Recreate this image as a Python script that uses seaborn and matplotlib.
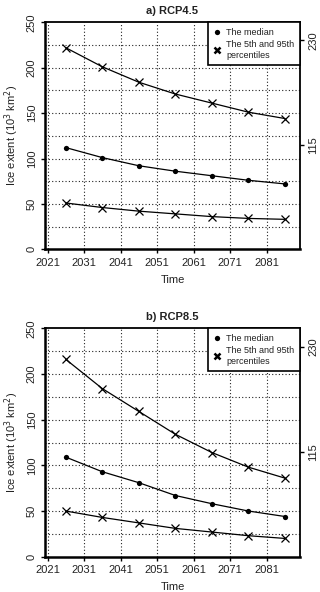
import matplotlib
matplotlib.use("Agg")
import matplotlib.pyplot as plt
from matplotlib.lines import Line2D
import seaborn as sns
import pandas as pd

# values (10^3 km^2)
years = [2026, 2036, 2046, 2056, 2066, 2076, 2086]

rcp45_p95 = [222, 201, 184, 171, 161, 151, 144]
rcp45_median = [112, 101, 92, 86, 81, 76, 72]
rcp45_p5 = [51, 46, 42, 39, 36, 34, 33]

rcp85_p95 = [216, 184, 159, 134, 114, 98, 86]
rcp85_median = [109, 93, 81, 67, 58, 50, 44]
rcp85_p5 = [50, 43, 37, 31, 27, 23, 20]

panel_titles = ["a) RCP4.5", "b) RCP8.5"]
x_ticks = [2021, 2031, 2041, 2051, 2061, 2071, 2081]
y_ticks = [0, 50, 100, 150, 200, 250]
right_ticks = [115, 230]

sns.set_theme(style="ticks")
plt.rcParams['font.family'] = ['Liberation Sans', 'DejaVu Sans']

fig = plt.figure(figsize=(3.2, 5.92), dpi=100)
positions = [[0.1406, 0.5789, 0.7969, 0.3834], [0.1406, 0.0596, 0.7969, 0.3858]]
panels = [(rcp45_p95, rcp45_median, rcp45_p5), (rcp85_p95, rcp85_median, rcp85_p5)]

for pos, title, (p95, med, p5) in zip(positions, panel_titles, panels):
    ax = fig.add_axes(pos)
    df = pd.DataFrame({"Time": years, "p95": p95, "median": med, "p5": p5})

    sns.lineplot(data=df, x="Time", y="p95", ax=ax, color="black", lw=0.9,
                 marker="x", markersize=5.5, markeredgewidth=0.9, markeredgecolor="black")
    sns.lineplot(data=df, x="Time", y="median", ax=ax, color="black", lw=0.9,
                 marker="o", markersize=3.8, markeredgewidth=0)
    sns.lineplot(data=df, x="Time", y="p5", ax=ax, color="black", lw=0.9,
                 marker="x", markersize=5.5, markeredgewidth=0.9, markeredgecolor="black")

    ax.set_xlim(2020.3, 2090.1)
    ax.set_ylim(0, 250)
    ax.set_xticks(x_ticks)
    ax.set_yticks(y_ticks)

    # dotted grid
    for yv in range(25, 250, 25):
        ax.axhline(yv, color="#222222", lw=0.8, ls=(0, (1, 2)), zorder=0)
    for xv in x_ticks:
        ax.axvline(xv, color="#222222", lw=0.8, ls=(0, (1, 2)), zorder=0)

    ax.tick_params(axis="both", which="major", direction="out", length=3, width=1,
                   labelsize=8, colors="black", labelcolor="#222222", pad=3,
                   bottom=True, left=True)
    ax.tick_params(axis="y", labelrotation=90)
    for lab in ax.get_yticklabels():
        lab.set_va("center")

    ax.set_xlabel("Time", fontsize=8, labelpad=5, color="#222222")
    ax.set_ylabel("Ice extent (10$^3$ km$^2$)", fontsize=8, labelpad=4, color="#222222")
    ax.set_title(title, fontsize=8, fontweight="bold", pad=6, color="#222222")

    for side in ["left", "bottom"]:
        ax.spines[side].set_linewidth(1.8)
    for side in ["right", "top"]:
        ax.spines[side].set_visible(True)
        ax.spines[side].set_linewidth(1.3)
    for sp in ax.spines.values():
        sp.set_color("black")

    ax2 = ax.twinx()
    ax2.set_ylim(0, 250)
    ax2.set_yticks(right_ticks)
    ax2.tick_params(axis="y", direction="out", length=3, width=1, labelsize=8,
                    colors="black", labelcolor="#222222", labelrotation=90, pad=3,
                    right=True)
    for lab in ax2.get_yticklabels():
        lab.set_va("center")
    ax2.grid(False)
    for sp in ax2.spines.values():
        sp.set_visible(False)

    handles = [
        Line2D([], [], color="black", marker="o", ls="", markersize=3.8, markeredgewidth=0),
        Line2D([], [], color="black", marker="x", ls="", markersize=5, markeredgewidth=1.8),
    ]
    leg = ax.legend(handles, ["The median", "The 5th and 95th\npercentiles"],
                    loc="upper right", fontsize=6.5, frameon=True, fancybox=False,
                    borderaxespad=0, handlelength=0.8, handletextpad=0.6,
                    labelspacing=0.4, borderpad=0.6, labelcolor="#222222")
    leg.get_frame().set_edgecolor("black")
    leg.get_frame().set_linewidth(1.2)
    leg.get_frame().set_alpha(1)
    leg.set_zorder(5)

fig.savefig("out.png", dpi=100)
